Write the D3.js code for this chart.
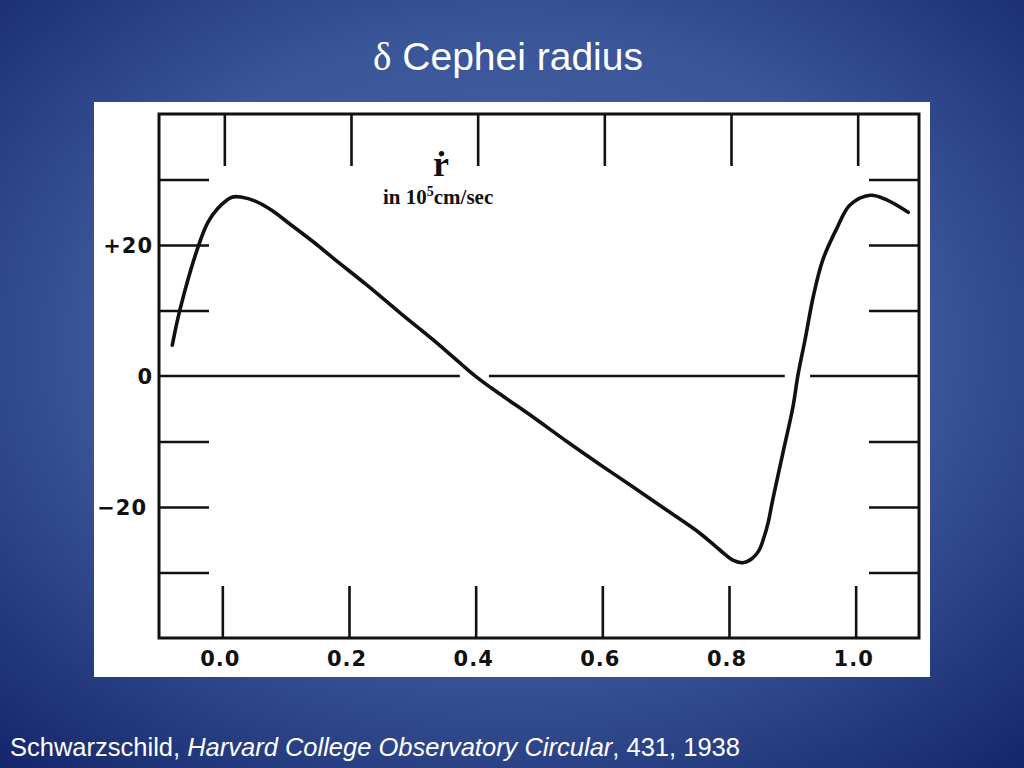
<!DOCTYPE html>
<html>
<head>
<meta charset="utf-8">
<script src="https://cdn.jsdelivr.net/npm/d3@7"></script>
<style>
  html, body { margin: 0; padding: 0; width: 1024px; height: 768px; overflow: hidden; }
  svg { display: block; }
</style>
</head>
<body>
<svg id="chart" width="1024" height="768"></svg>
<script>
// ---- data ----
const phase = [-0.079, -0.067, -0.038, -0.023, -0.007, 0.015, 0.031, 0.052, 0.078, 0.104,
  0.146, 0.175, 0.228, 0.281, 0.333, 0.375, 0.402, 0.439, 0.491, 0.544, 0.596, 0.648,
  0.702, 0.754, 0.786, 0.806, 0.822, 0.836, 0.847, 0.855, 0.862, 0.869, 0.885, 0.901, 0.909, 0.920,
  0.933, 0.948, 0.971, 0.991, 1.023, 1.049, 1.083];
const velocity = [4.7, 10.1, 19.8, 23.4, 25.6, 27.3, 27.3, 26.7, 25.3, 23.4,
  20.3, 18.0, 13.9, 9.6, 5.5, 2.0, -0.2, -2.8, -6.3, -10.0, -13.5, -16.9,
  -20.5, -24.0, -26.6, -28.1, -28.5, -27.9, -26.7, -24.7, -22.3, -18.9, -11.8, -4.7, 0.2, 5.5,
  12.1, 17.7, 22.7, 26.1, 27.6, 26.9, 25.0];
const xTicks = [0.0, 0.2, 0.4, 0.6, 0.8, 1.0];
const xTickLabels = ["0.0", "0.2", "0.4", "0.6", "0.8", "1.0"];
const yTicks = [-30, -20, -10, 10, 20, 30];
const yLabelValues = [20, 0, -20];
const yLabelTexts = ["+20", "0", "\u221220"];
const zeroSegments = [[-0.1, 0.375], [0.421, 0.888], [0.928, 1.1]];
const titleText = "Cephei radius";
const footerAuthor = "Schwarzschild, ";
const footerJournal = "Harvard College Observatory Circular";
const footerRest = ", 431, 1938";

// ---- layout ----
const svg = d3.select("#chart");
const defs = svg.append("defs");
const grad = defs.append("radialGradient").attr("id", "bg")
  .attr("cx", "50%").attr("cy", "45%").attr("r", "75%");
grad.append("stop").attr("offset", "0%").attr("stop-color", "#4d6cad");
grad.append("stop").attr("offset", "55%").attr("stop-color", "#3a5598");
grad.append("stop").attr("offset", "100%").attr("stop-color", "#14256a");
svg.append("rect").attr("width", 1024).attr("height", 768).attr("fill", "url(#bg)");

// white panel
svg.append("rect").attr("x", 94).attr("y", 102).attr("width", 836).attr("height", 575).attr("fill", "#ffffff");

// title
const title = svg.append("text").attr("x", 508).attr("y", 70).attr("text-anchor", "middle")
  .attr("fill", "#ffffff").style("font-family", "'Liberation Sans', Arial, sans-serif").style("font-size", "39px");
title.append("tspan").style("font-family", "'Liberation Serif', 'DejaVu Serif', serif").text("\u03b4");
title.append("tspan").text(" " + titleText);

// footer
const foot = svg.append("text").attr("x", 10).attr("y", 756).attr("fill", "#ffffff")
  .style("font-family", "'Liberation Sans', Arial, sans-serif").style("font-size", "25.5px");
foot.append("tspan").text(footerAuthor);
foot.append("tspan").style("font-style", "italic").text(footerJournal);
foot.append("tspan").text(footerRest);

// scales
const x = d3.scaleLinear().domain([-0.1, 1.1]).range([159, 919]);
const y = d3.scaleLinear().domain([-40, 40]).range([638, 114]);

const g = svg.append("g");
const ink = "#111";

// frame
g.append("rect").attr("x", x.range()[0]).attr("y", y.range()[1])
  .attr("width", x.range()[1] - x.range()[0]).attr("height", y.range()[0] - y.range()[1])
  .attr("fill", "none").attr("stroke", ink).attr("stroke-width", 3);

// x ticks: bottom (up) and top (down)
const tickLen = 52;
const xb = d3.axisBottom(x).tickValues(xTicks).tickSize(-tickLen).tickFormat("");
const xt = d3.axisTop(x).tickValues(xTicks).tickSize(-tickLen).tickFormat("");
const gxb = g.append("g").attr("transform", `translate(0,${y.range()[0]})`).call(xb);
const gxt = g.append("g").attr("transform", `translate(2,${y.range()[1]})`).call(xt);
const yl = d3.axisLeft(y).tickValues(yTicks).tickSize(-50).tickFormat("");
const yr = d3.axisRight(y).tickValues(yTicks).tickSize(-50).tickFormat("");
const gyl = g.append("g").attr("transform", `translate(${x.range()[0]},0)`).call(yl);
const gyr = g.append("g").attr("transform", `translate(${x.range()[1]},0)`).call(yr);
[gxb, gxt, gyl, gyr].forEach(a => {
  a.select(".domain").remove();
  a.selectAll(".tick line").attr("stroke", ink).attr("stroke-width", 2.6);
});

// zero line, broken at the curve crossings
g.selectAll(".zero").data(zeroSegments).join("line").attr("class", "zero")
  .attr("x1", d => x(d[0])).attr("x2", d => x(d[1]))
  .attr("y1", y(0)).attr("y2", y(0))
  .attr("stroke", ink).attr("stroke-width", 2.6);

// tick labels
const lblFont = "'DejaVu Sans', 'Liberation Sans', sans-serif";
g.selectAll(".xl").data(xTicks).join("text").attr("class", "xl")
  .attr("x", d => x(d) - 2).attr("y", y.range()[0] + 28)
  .attr("text-anchor", "middle").attr("fill", ink)
  .style("font-family", lblFont).style("font-size", "21px").style("font-weight", "bold")
  .style("letter-spacing", "1px")
  .text((d, i) => xTickLabels[i]);
g.selectAll(".yl").data(yLabelValues).join("text").attr("class", "yl")
  .attr("x", (d, i) => x.range()[0] - (i === 2 ? 12 : 6)).attr("y", d => y(d) + 8)
  .attr("text-anchor", "end").attr("fill", ink)
  .style("font-family", lblFont).style("font-size", "21px").style("font-weight", "bold")
  .style("letter-spacing", "1px")
  .text((d, i) => yLabelTexts[i]);

// annotation
const ann = g.append("g").attr("fill", ink).style("font-family", "'Liberation Serif', 'DejaVu Serif', serif").style("font-weight", "bold");
ann.append("text").attr("x", 441).attr("y", 176).attr("text-anchor", "middle")
  .style("font-size", "36px").text("\u1e59");
const a2 = ann.append("text").attr("x", 383).attr("y", 204).style("font-size", "21px");
a2.append("tspan").text("in 10");
a2.append("tspan").attr("dy", -8).style("font-size", "14px").text("5");
a2.append("tspan").attr("dy", 8).text("cm/sec");

// curve
const pts = phase.map((p, i) => [p, velocity[i]]);
const line = d3.line().x(d => x(d[0])).y(d => y(d[1])).curve(d3.curveCatmullRom.alpha(0.5));
g.append("path").datum(pts).attr("d", line).attr("fill", "none")
  .attr("stroke", ink).attr("stroke-width", 3.6).attr("stroke-linecap", "round").attr("stroke-linejoin", "round");
</script>
</body>
</html>
